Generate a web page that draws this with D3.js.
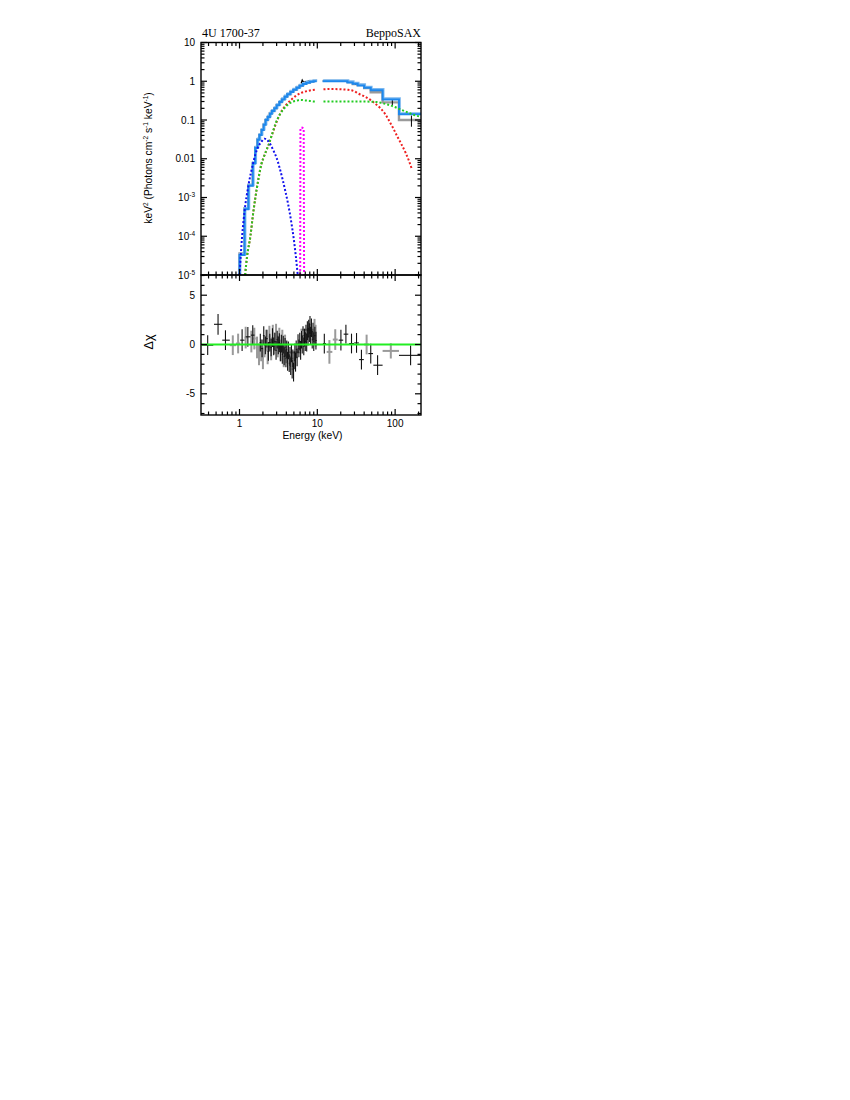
<!DOCTYPE html>
<html><head><meta charset="utf-8">
<script src="https://cdn.jsdelivr.net/npm/d3@7"></script>
<style>body{margin:0;background:#fff}</style>
</head><body>
<svg id="c" width="850" height="1100"></svg>
<script>
// ---------------- DATA ----------------
const title = "4U 1700-37";
const mission = "BeppoSAX";
const xTickVals = [1, 10, 100];
const xTickLabels = ["1", "10", "100"];
const yTopTickVals = [10, 1, 0.1, 0.01, 1e-3, 1e-4, 1e-5];
const yTopTickBase = ["10", "1", "0.1", "0.01", "10", "10", "10"];
const yTopTickExp  = ["", "", "", "", "-3", "-4", "-5"];
const yBotTickVals = [5, 0, -5];
const yBotTickLabels = ["5", "0", "-5"];

// total model (step) - low energy segment
const modelLoEdges = [0.95,1.0,1.16,1.30,1.48,1.59,1.70,1.80,1.92,2.04,2.16,2.3,2.45,2.6,2.8,3.0,3.25,3.5,3.8,4.1,4.5,4.9,5.4,5.9,6.5,7.2,8.0,8.9,9.8];
const modelLoVals  = [1e-6,3.3e-5,5e-4,2e-3,7.5e-3,0.019,0.031,0.041,0.055,0.075,0.1,0.12,0.145,0.17,0.2,0.24,0.29,0.34,0.4,0.46,0.53,0.6,0.68,0.76,0.85,0.92,0.97,1.0];
// total model (step) - high energy segment
const modelHiEdges = [11.7,24.4,28.5,33,40,48.6,69,112,215];
const modelHiVals  = [1.0,0.93,0.86,0.78,0.68,0.59,0.34,0.14];

// data (gray steps)
const dataLoVals = [1e-6,3.6e-5,5.3e-4,2.1e-3,7.8e-3,0.02,0.032,0.042,0.056,0.077,0.1,0.12,0.15,0.17,0.2,0.245,0.29,0.345,0.4,0.46,0.54,0.6,0.69,0.77,0.87,0.93,0.98,1.02];
const dataHiVals = [1.02,0.95,0.85,0.8,0.67,0.52,0.285,0.1];
// black data overlay around iron line
const blkDataE = [6.2,6.4,6.6,6.9,7.3,7.7,8.2,8.7,9.2,9.8];
const blkDataF = [0.88,1.07,0.97,0.95,0.98,1.0,0.99,1.03,1.02,1.06];
// high energy error bars (energy, flux, low, high)
const hiErrE  = [31, 92, 162];
const hiErrF  = [0.86, 0.285, 0.1];
const hiErrLo = [0.82, 0.24, 0.067];
const hiErrHi = [0.9, 0.33, 0.13];

// model components
const bbE = [1.0,1.08,1.17,1.3,1.48,1.6,1.75,1.9,2.1,2.25,2.45,2.7,3.0,3.3,3.6,3.9,4.2,4.6,5.0,5.3,5.6];
const bbF = [1e-5,1e-4,5e-4,2e-3,7e-3,0.013,0.021,0.027,0.033,0.031,0.025,0.017,0.0105,0.0055,0.0028,0.0014,0.0007,0.00025,0.00008,0.00003,0.00001];

const greenLoE = [1.18,1.25,1.38,1.5,1.6,1.75,1.9,2.05,2.2,2.35,2.5,2.7,2.9,3.1,3.35,3.6,4.0,4.4,4.9,5.4,6.1,7.0,8.0,9.0,9.8];
const greenLoF = [1e-5,3e-5,1e-4,4e-4,1e-3,3e-3,7e-3,0.011,0.016,0.022,0.032,0.052,0.08,0.11,0.145,0.18,0.23,0.27,0.3,0.315,0.33,0.32,0.31,0.3,0.3];
const greenHiE = [12,20,30,40,50,60,65,80,97,115,137,176,215];
const greenHiF = [0.3,0.3,0.3,0.3,0.295,0.29,0.28,0.25,0.22,0.19,0.165,0.135,0.12];

const redLoE = [1.18,1.25,1.38,1.5,1.6,1.75,1.9,2.05,2.2,2.35,2.5,2.7,2.9,3.1,3.3,3.6,4.0,4.6,5.3,6.2,7.2,8.5,9.8];
const redLoF = [1e-5,3e-5,1e-4,4e-4,1e-3,3e-3,7e-3,0.011,0.016,0.022,0.032,0.05,0.075,0.105,0.14,0.19,0.25,0.33,0.42,0.5,0.55,0.59,0.61];
const redHiE = [12,15,20,25,30,33,40,48,56,65,75,85,95,107,120,137,150,164];
const redHiF = [0.62,0.63,0.62,0.6,0.55,0.49,0.41,0.33,0.26,0.2,0.14,0.09,0.06,0.037,0.024,0.014,0.009,0.0054];

const lineE = [6.02,6.07,6.2,6.45,6.68,6.76];
const lineF = [1e-5,0.06,0.064,0.063,0.06,1e-5];

// residuals: sparse black crosses
const resBlkE   = [0.39,0.53,0.66,1.08,1.28,1.48,12.3,20.1,23.3,27.5,31.9,36.9,48.6,59.5,158];
const resBlkLo  = [0.33,0.47,0.60,1.02,1.20,1.40,11.8,18.8,21.8,25.6,29.8,34.4,45.3,52.5,112];
const resBlkHi  = [0.46,0.60,0.75,1.16,1.38,1.56,12.9,21.5,25.0,29.6,34.2,39.6,52.0,69,215];
const resBlkR   = [-0.07,2.05,0.44,0.44,0.78,0.95,0.1,0.44,1.05,0.1,0.16,-1.53,-0.92,-2.1,-1.1];
const resBlkErr = [1.0,1.05,1.0,1.1,1.0,1.0,1.0,1.05,0.95,1.0,1.0,1.0,1.0,1.0,1.0];
// residuals: sparse gray crosses
const resGryE   = [0.82,0.96,1.2,14.3,17.0,43,88];
const resGryLo  = [0.75,0.9,1.16,13.2,15.8,40,69];
const resGryHi  = [0.9,1.02,1.26,15.6,18.3,46,112];
const resGryR   = [-0.07,0.1,0.7,-0.75,0.5,0.0,-0.65];
const resGryErr = [1.0,1.0,1.1,1.2,1.05,1.0,0.77];
// residuals: dense black (MECS-like)
const denseBlkE = [1.85,1.95,2.05,2.15,2.25,2.35,2.45,2.55,2.65,2.75,2.85,2.95,3.05,3.15,3.25,3.35,3.45,3.55,3.65,3.75,3.85,3.95,4.05,4.15,4.25,4.35,4.45,4.55,4.65,4.75,4.85,4.95,5.05,5.15,5.25,5.35,5.5,5.65,5.8,5.95,6.1,6.25,6.4,6.55,6.7,6.85,7.0,7.15,7.3,7.45,7.6,7.75,7.9,8.05,8.2,8.4,8.6,8.8,9.0,9.3,9.6];
const denseBlkR = [0.2,-0.4,0.9,-0.1,0.6,-0.7,0.2,-0.3,0.7,-0.2,0.3,-0.6,0.5,-0.1,0.2,-0.8,0.1,-1.0,0.0,-1.2,-0.3,-1.4,-0.5,-1.7,-0.6,-1.9,-1.2,-2.2,-0.9,-2.5,-1.4,-2.8,-1.6,-0.8,-1.8,-0.5,-1.3,0.1,-0.4,0.3,-0.6,0.5,0.0,0.9,-0.2,0.7,0.3,1.1,0.2,1.4,0.8,1.6,1.2,2.0,0.9,1.7,0.5,1.3,0.3,0.9,0.4];
const denseBlkErr = [0.9,0.9,0.95,0.9,0.9,0.95,0.9,0.9,0.95,0.9,0.9,0.95,0.9,0.9,0.95,0.9,0.9,0.95,0.9,0.9,0.95,0.9,0.9,0.95,0.9,0.9,0.95,0.9,0.9,0.95,0.9,0.95,0.9,0.9,0.95,0.9,0.9,0.95,0.9,0.9,0.95,0.9,0.9,0.95,0.9,0.9,0.95,0.9,0.9,0.95,0.9,0.9,0.95,0.9,0.9,0.95,0.9,0.9,0.95,0.9,0.9];
// residuals: dense gray (LECS-like)
const denseGryE = [1.42,1.55,1.68,1.78,1.9,2.0,2.1,2.2,2.3,2.42,2.55,2.68,2.8,2.95,3.1,3.25,3.4,3.55,3.7,3.85,4.0,9.2,9.5];
const denseGryR = [0.3,0.6,-0.3,-1.0,-0.6,-1.4,-0.2,0.4,-0.9,0.8,-0.5,0.9,0.1,1.0,-0.2,0.6,-0.6,0.4,-1.2,-0.1,-0.8,1.5,0.9];
const denseGryErr = [1.1,1.1,1.1,1.1,1.1,1.1,1.1,1.1,1.1,1.1,1.1,1.1,1.1,1.1,1.1,1.1,1.1,1.1,1.1,1.1,1.1,1.1,1.1];

// ---------------- LAYOUT ----------------
const L = 201, R = 421, T = 42.5, M = 275, B = 415;
const svg = d3.select("#c");
const x = d3.scaleLog().domain([0.32, 215]).range([L, R]);
const yT = d3.scaleLog().domain([1e-5, 10]).range([M, T]);
const yB = d3.scaleLinear().domain([-7.15, 7.05]).range([B, M]);

const defs = svg.append("defs");
defs.append("clipPath").attr("id", "clipT").append("rect").attr("x", L).attr("y", T).attr("width", R - L).attr("height", M - T);
defs.append("clipPath").attr("id", "clipB").append("rect").attr("x", L).attr("y", M).attr("width", R - L).attr("height", B - M);

const gT = svg.append("g").attr("clip-path", "url(#clipT)");
const gB = svg.append("g").attr("clip-path", "url(#clipB)");

function stepPts(edges, vals) {
  const p = [];
  vals.forEach((v, i) => { p.push([edges[i], v]); p.push([edges[i + 1], v]); });
  return p;
}
const lineT = d3.line().x(d => x(d[0])).y(d => yT(Math.max(d[1], 1e-7)));
const smoothT = d3.line().x(d => x(d[0])).y(d => yT(d[1])).curve(d3.curveMonotoneX);
const zip = (a, b) => a.map((v, i) => [v, b[i]]);

// data gray steps
gT.append("path").attr("d", lineT(stepPts(modelLoEdges, dataLoVals))).attr("fill", "none").attr("stroke", "#9a9a9a").attr("stroke-width", 2.4);
gT.append("path").attr("d", lineT(stepPts(modelHiEdges, dataHiVals))).attr("fill", "none").attr("stroke", "#9a9a9a").attr("stroke-width", 2.4);
// black data
gT.append("path").attr("d", lineT(zip(blkDataE, blkDataF))).attr("fill", "none").attr("stroke", "#000").attr("stroke-width", 1.3);
hiErrE.forEach((e, i) => {
  gT.append("line").attr("x1", x(e)).attr("x2", x(e)).attr("y1", yT(hiErrLo[i])).attr("y2", yT(hiErrHi[i])).attr("stroke", "#000").attr("stroke-width", 1);
});
// model light + dark
gT.append("path").attr("d", lineT(stepPts(modelLoEdges, modelLoVals))).attr("fill", "none").attr("stroke", "#7db9f0").attr("stroke-width", 2.6).attr("transform", "translate(0.6,-0.8)");
gT.append("path").attr("d", lineT(stepPts(modelHiEdges, modelHiVals))).attr("fill", "none").attr("stroke", "#7db9f0").attr("stroke-width", 2.6).attr("transform", "translate(0.6,-0.8)");
gT.append("path").attr("d", lineT(stepPts(modelLoEdges, modelLoVals))).attr("fill", "none").attr("stroke", "#1e88ec").attr("stroke-width", 2);
gT.append("path").attr("d", lineT(stepPts(modelHiEdges, modelHiVals))).attr("fill", "none").attr("stroke", "#1e88ec").attr("stroke-width", 2);

// components (dotted)
function dotted(E, F, color, curve) {
  const ln = d3.line().x(d => x(d[0])).y(d => yT(d[1])).curve(curve || d3.curveMonotoneX);
  gT.append("path").attr("d", ln(zip(E, F))).attr("fill", "none").attr("stroke", color)
    .attr("stroke-width", 2).attr("stroke-dasharray", "2,2");
}
dotted(redLoE, redLoF, "#ee2020");
dotted(redHiE, redHiF, "#ee2020");
dotted(greenLoE, greenLoF, "#22cc22");
dotted(greenHiE, greenHiF, "#22cc22");
dotted(bbE, bbF, "#1010ee");
dotted(lineE, lineF, "#ff00ff", d3.curveLinear);

// residuals
function cross(E, lo, hi, r, err, color, w) {
  E.forEach((e, i) => {
    gB.append("line").attr("x1", x(lo[i])).attr("x2", x(hi[i])).attr("y1", yB(r[i])).attr("y2", yB(r[i])).attr("stroke", color).attr("stroke-width", w);
    gB.append("line").attr("x1", x(e)).attr("x2", x(e)).attr("y1", yB(r[i] - err[i])).attr("y2", yB(r[i] + err[i])).attr("stroke", color).attr("stroke-width", w);
  });
}
function neighbours(E) {
  const lo = E.map((e, i) => i === 0 ? e * 0.98 : Math.sqrt(E[i - 1] * e));
  const hi = E.map((e, i) => i === E.length - 1 ? e * 1.02 : Math.sqrt(E[i + 1] * e));
  return [lo, hi];
}
const [dgLo, dgHi] = neighbours(denseGryE);
const [dbLo, dbHi] = neighbours(denseBlkE);
cross(denseGryE, dgLo, dgHi, denseGryR, denseGryErr, "#9a9a9a", 2);
cross(resGryE, resGryLo, resGryHi, resGryR, resGryErr, "#9a9a9a", 2);
cross(denseBlkE, dbLo, dbHi, denseBlkR, denseBlkErr, "#111", 1.1);
cross(resBlkE, resBlkLo, resBlkHi, resBlkR, resBlkErr, "#111", 1.1);
gB.append("line").attr("x1", L).attr("x2", R).attr("y1", yB(0)).attr("y2", yB(0)).attr("stroke", "#22ee22").attr("stroke-width", 2);

// ---------------- AXES ----------------
const ax = svg.append("g").attr("stroke", "#000");
function xTicks(yPos, dir, vals, len) {
  vals.forEach(v => ax.append("line").attr("x1", x(v)).attr("x2", x(v)).attr("y1", yPos).attr("y2", yPos + dir * len).attr("stroke-width", 1.2));
}
function yTicks(scale, vals, len) {
  vals.forEach(v => {
    ax.append("line").attr("x1", L).attr("x2", L + len).attr("y1", scale(v)).attr("y2", scale(v)).attr("stroke-width", 1.2);
    ax.append("line").attr("x1", R).attr("x2", R - len).attr("y1", scale(v)).attr("y2", scale(v)).attr("stroke-width", 1.2);
  });
}
const xMinor = [];
[0.1, 1, 10, 100].forEach(d => { for (let k = 2; k <= 9; k++) { const v = d * k; if (v > 0.32 && v < 215) xMinor.push(v); } });
const yMinor = [];
[1e-5, 1e-4, 1e-3, 1e-2, 1e-1, 1].forEach(d => { for (let k = 2; k <= 9; k++) yMinor.push(d * k); });
const yBMinor = d3.range(-7, 8, 1).filter(v => v % 5 !== 0);

// top panel
xTicks(T, 1, xTickVals, 6); xTicks(T, 1, xMinor, 3.5);
xTicks(M, -1, xTickVals, 6); xTicks(M, -1, xMinor, 3.5);
yTicks(yT, yTopTickVals, 6); yTicks(yT, yMinor, 3.5);
// bottom panel
xTicks(M, 1, xTickVals, 6); xTicks(M, 1, xMinor, 3.5);
xTicks(B, -1, xTickVals, 6); xTicks(B, -1, xMinor, 3.5);
yTicks(yB, yBotTickVals, 6); yTicks(yB, yBMinor, 3.5);

// frames
svg.append("rect").attr("x", L).attr("y", T).attr("width", R - L).attr("height", M - T).attr("fill", "none").attr("stroke", "#000").attr("stroke-width", 1.4);
svg.append("rect").attr("x", L).attr("y", M).attr("width", R - L).attr("height", B - M).attr("fill", "none").attr("stroke", "#000").attr("stroke-width", 1.4);

// tick labels
const sans = "'Liberation Sans', Arial, Helvetica, sans-serif";
const lab = svg.append("g").attr("font-family", sans).attr("fill", "#000");
yTopTickVals.forEach((v, i) => {
  const t = lab.append("text").attr("x", 195).attr("y", yT(v) + 3.5).attr("text-anchor", "end").attr("font-size", 10);
  t.append("tspan").text(yTopTickBase[i]);
  if (yTopTickExp[i]) t.append("tspan").attr("font-size", 6.5).attr("dy", -4).text(yTopTickExp[i]);
});
yBotTickVals.forEach((v, i) => {
  lab.append("text").attr("x", 195).attr("y", yB(v) + 3.5).attr("text-anchor", "end").attr("font-size", 10).text(yBotTickLabels[i]);
});
xTickVals.forEach((v, i) => {
  lab.append("text").attr("x", x(v)).attr("y", 427).attr("text-anchor", "middle").attr("font-size", 10).text(xTickLabels[i]);
});
lab.append("text").attr("x", 312.5).attr("y", 438.5).attr("text-anchor", "middle").attr("font-size", 10.3).text("Energy (keV)");

// y titles
const yl = lab.append("text").attr("transform", "translate(151.5,158) rotate(-90)").attr("text-anchor", "middle").attr("font-size", 10.3);
yl.append("tspan").text("keV");
yl.append("tspan").attr("font-size", 6.5).attr("dy", -4).text("2");
yl.append("tspan").attr("dy", 4).text(" (Photons cm");
yl.append("tspan").attr("font-size", 6.5).attr("dy", -4).text("-2");
yl.append("tspan").attr("dy", 4).text(" s");
yl.append("tspan").attr("font-size", 6.5).attr("dy", -4).text("-1");
yl.append("tspan").attr("dy", 4).text(" keV");
yl.append("tspan").attr("font-size", 6.5).attr("dy", -4).text("-1");
yl.append("tspan").attr("dy", 4).text(")");

lab.append("text").attr("transform", "translate(153,342) rotate(-90)").attr("text-anchor", "middle").attr("font-size", 12.5).text("Δχ");

// titles
const serif = "'Liberation Serif', 'Times New Roman', serif";
svg.append("text").attr("x", 202).attr("y", 36.5).attr("font-family", serif).attr("font-size", 12).text(title);
svg.append("text").attr("x", 421).attr("y", 36.5).attr("text-anchor", "end").attr("font-family", serif).attr("font-size", 12).text(mission);
</script>
</body></html>
